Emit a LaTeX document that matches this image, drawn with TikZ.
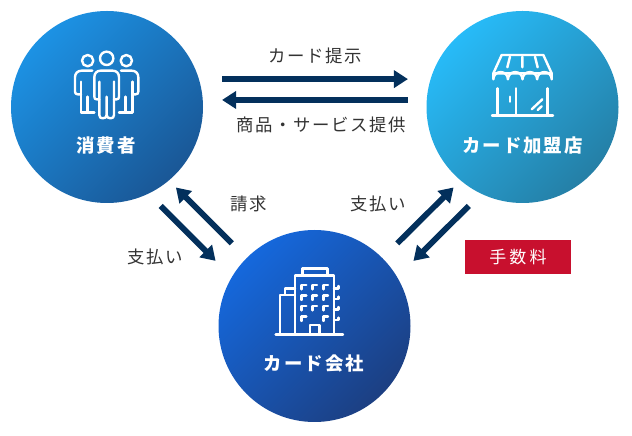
\documentclass[tikz,border=0pt]{standalone}
\usepackage{fontspec}
\setmainfont{Noto Sans CJK JP}[LetterSpace=9]
\usetikzlibrary{arrows.meta}
\definecolor{navy}{HTML}{03305C}
\definecolor{txt}{HTML}{333333}
\definecolor{badge}{HTML}{C8102E}
\definecolor{aTop}{HTML}{1C92E4}\definecolor{aBot}{HTML}{1A5796}
\definecolor{bTop}{HTML}{27BBF8}\definecolor{bBot}{HTML}{257FA6}
\definecolor{cTop}{HTML}{1568DC}\definecolor{cBot}{HTML}{1C3F82}
\tikzset{
  x=1pt,y=1pt,
  disc/.style 2 args={circle,minimum size=192pt,inner sep=0pt,outer sep=0pt,top color=#1,bottom color=#2,shading angle=45},
  flow/.style={draw=navy,line width=5.8pt,-{Triangle[length=14pt,width=17pt]}},
  captext/.style={text=txt,font=\fontsize{17.4}{20}\selectfont,inner sep=0pt},
  heading/.style={text=white,font=\fontsize{18.4}{22}\selectfont\bfseries\addfontfeature{LetterSpace=11},inner sep=0pt},
  icon/.style={draw=white,line width=2.4pt,line cap=round,line join=round},
  zoomed/.style={xscale=1/3,yscale=-1/3},
}
\begin{document}
\begin{tikzpicture}
\useasboundingbox (0,0) rectangle (632,436);
% circles
\node[disc={aTop}{aBot}] (cons) at (107,329) {};
\node[disc={bTop}{bBot}] (shop) at (522.5,329) {};
\node[disc={cTop}{cBot}] (card) at (314.5,110) {};
% titles
\node[heading] (consT) at (106,290) {消費者};
\node[heading] (shopT) at (522.5,290) {カード加盟店};
\node[heading] (cardT) at (314,72) {カード会社};
% connectors
\draw[flow,shorten <=23.2pt,shorten >=22.7pt] ([shift={(16.9:96)}]cons.center) -- ([shift={(163.1:96)}]shop.center);
\draw[flow,shorten <=18.8pt,shorten >=19.3pt] ([shift={(175.8:96)}]shop.center) -- ([shift={(4.2:96)}]cons.center);
\draw[flow,shorten <=17.5pt,shorten >=23pt] ([shift={(-64.5:96)}]cons.center) -- ([shift={(149.4:96)}]card.center);
\draw[flow,shorten <=21pt,shorten >=10pt] ([shift={(135:96)}]card.center) -- ([shift={(-49.9:96)}]cons.center);
\draw[flow,shorten <=21pt,shorten >=10pt] ([shift={(45:96)}]card.center) -- ([shift={(-130.1:96)}]shop.center);
\draw[flow,shorten <=17.5pt,shorten >=23pt] ([shift={(-115.5:96)}]shop.center) -- ([shift={(30.6:96)}]card.center);
% labels
\node[captext] (l1) at (315,380) {カード提示};
\node[captext] (l2) at (321,311) {商品・サービス提供};
\node[captext] (l3) at (249,232) {請求};
\node[captext] (l4) at (155,179) {支払い};
\node[captext] (l5) at (378,232) {支払い};
\node[fill=badge,minimum width=106pt,minimum height=34pt,inner sep=0pt,text=white,font=\fontsize{17}{18}\selectfont\addfontfeature{LetterSpace=18}] (fee) at (518,179) {手数料};
% people icon
\begin{scope}[shift={(50,396)},zoomed]
\draw[icon] (170,55) circle (20);
\draw[icon] (113,62) circle (17);
\draw[icon] (229,62) circle (17);
\draw[icon] (148,125) -- (148,225) .. controls (148,232) and (152,235) .. (158,235) .. controls (165,235) and (170,232) .. (170,225) -- (170,170);
\draw[icon] (170,225) .. controls (170,232) and (175,235) .. (182,235) .. controls (188,235) and (192,232) .. (192,225) -- (192,125);
\draw[icon] (148,178) -- (140,178) .. controls (135,178) and (133,175) .. (133,170) -- (133,112) .. controls (133,100) and (140,92) .. (152,92) -- (188,92) .. controls (200,92) and (207,100) .. (207,112) -- (207,170) .. controls (207,175) and (205,178) .. (200,178) -- (192,178);
\draw[icon] (127,92) -- (95,92) .. controls (83,92) and (75,100) .. (75,112) -- (75,155) .. controls (75,160) and (78,163) .. (83,163) -- (93,163);
\draw[icon] (93,125) -- (93,218) -- (133,218);
\draw[icon] (113,218) -- (113,170);
\draw[icon] (213,92) -- (245,92) .. controls (257,92) and (265,100) .. (265,112) -- (265,155) .. controls (265,160) and (262,163) .. (257,163) -- (247,163);
\draw[icon] (247,125) -- (247,218) -- (207,218);
\draw[icon] (227,218) -- (227,170);
\end{scope}
% shop icon
\begin{scope}[shift={(460,396)},zoomed]
\draw[icon] (100,100) -- (125,45) -- (250,45) -- (275,100) -- cycle;
\draw[icon] (100,100) -- (100,118) arc[start angle=180,end angle=360,radius=21.9] arc[start angle=180,end angle=360,radius=21.9] arc[start angle=180,end angle=360,radius=21.9] arc[start angle=180,end angle=360,radius=21.9] -- (275,100);
\draw[icon] (150,50) -- (142,82) (187,50) -- (187,82) (225,50) -- (233,82);
\draw[icon] (112,145) -- (112,227) (263,145) -- (263,227) (168,145) -- (168,227);
\draw[icon] (150,170) -- (150,185);
\draw[icon] (247,178) -- (215,208) (245,199) -- (233,210);
\draw[icon] (96,227) -- (279,227);
\end{scope}
% building icon
\begin{scope}[shift={(260,181)},zoomed]
\draw[icon] (128,62) -- (128,40) -- (202,40) -- (202,62);
\draw[icon] (105,238) -- (105,62) -- (222,62) -- (222,238);
\draw[icon] (105,100) -- (75,100) -- (75,118) (105,120) -- (60,120) -- (60,238);
\draw[icon] (47,238) -- (249,238);
\draw[icon] (150,238) -- (150,210) -- (178,210) -- (178,238);
\foreach \yy in {90,122,153}{
  \foreach \xx in {125,157,190}{
    \draw[icon] (\xx,\yy+13) -- (\xx,\yy) -- (\xx+14,\yy);
  }
}
\foreach \xx in {125,190}{
  \draw[icon] (\xx,198) -- (\xx,185) -- (\xx+14,185);
}
\foreach \yy in {100,132,163,195}{
  \draw[icon] (222,\yy) -- (236,\yy) -- (236,\yy-7);
}
\end{scope}
\end{tikzpicture}
\end{document}
